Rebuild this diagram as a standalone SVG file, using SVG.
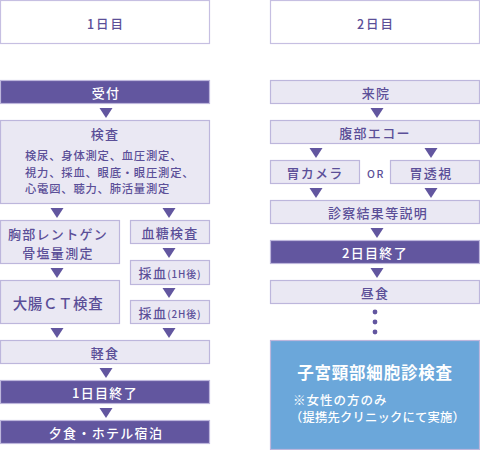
<svg xmlns="http://www.w3.org/2000/svg" width="480" height="450" viewBox="0 0 480 450">
<style>
text{font-family:"Noto Sans CJK JP","Noto Sans",sans-serif;font-weight:500;text-anchor:middle;dominant-baseline:central;font-size:13px;letter-spacing:1.3px;fill:#5b4f98}
.hd rect{fill:#fff;stroke:#c6bfe2;stroke-width:1.2}
.lt rect{fill:#eae8f3;stroke:#bdb6dc;stroke-width:1.2}
.dk rect{fill:#62569f;stroke:#bdb6dc;stroke-width:1.2}
.dk text,.bl text{fill:#fff}
.bl rect{fill:#6ba7da;stroke:#bdb6dc;stroke-width:1.2}
.hdt{font-size:12.5px;letter-spacing:2px}
.sm{font-size:11.3px;letter-spacing:0.8px;text-anchor:start}
.par{font-size:10px;letter-spacing:0.8px}
.big{font-size:14.5px;letter-spacing:0.6px}
.or{font-size:10.5px;letter-spacing:1.5px}
.ttl{font-size:16.5px;font-weight:bold;letter-spacing:0.8px}
.note{font-size:12.5px;letter-spacing:1px;text-anchor:start}
.note2{font-size:12.3px;letter-spacing:0.2px;text-anchor:start}
</style>
<defs><path id="tri" d="M-6.5,0 L6.5,0 L0,10 Z"/></defs>

<g id="day1" class="hd"><rect x="0.5" y="0.5" width="209" height="43"/><text class="hdt" x="106" y="23">1日目</text></g>
<g id="day2" class="hd"><rect x="270.5" y="0.5" width="209" height="43"/><text class="hdt" x="376" y="23">2日目</text></g>

<g id="uketsuke" class="dk"><rect x="0.5" y="80.5" width="209" height="23"/><text x="106" y="92">受付</text></g>
<g id="kensa" class="lt"><rect x="0.5" y="120.5" width="209" height="83"/><text x="105" y="133">検査</text>
<text class="sm" x="25" y="155">検尿、身体測定、血圧測定、</text>
<text class="sm" x="25" y="172">視力、採血、眼底・眼圧測定、</text>
<text class="sm" x="25" y="188">心電図、聴力、肺活量測定</text></g>
<g id="kyoubu" class="lt"><rect x="0.5" y="220.5" width="119" height="43"/><text x="58" y="233">胸部レントゲン</text><text x="58" y="252">骨塩量測定</text></g>
<g id="kettou" class="lt"><rect x="130.5" y="220.5" width="79" height="23"/><text x="170" y="232">血糖検査</text></g>
<g id="saiketsu1" class="lt"><rect x="130.5" y="260.5" width="79" height="24"/><text x="170" y="272.5">採血<tspan class="par">(1H後)</tspan></text></g>
<g id="daichou" class="lt"><rect x="0.5" y="280.5" width="119" height="43"/><text class="big" x="58" y="302">大腸ＣＴ検査</text></g>
<g id="saiketsu2" class="lt"><rect x="130.5" y="300.5" width="79" height="23"/><text x="170" y="312.5">採血<tspan class="par">(2H後)</tspan></text></g>
<g id="keishoku" class="lt"><rect x="0.5" y="340.5" width="209" height="23"/><text x="105" y="352">軽食</text></g>
<g id="end1" class="dk"><rect x="0.5" y="380.5" width="209" height="23"/><text x="105" y="392">1日目終了</text></g>
<g id="yuushoku" class="dk"><rect x="0.5" y="420.5" width="209" height="23"/><text x="106" y="432">夕食・ホテル宿泊</text></g>

<g id="raiin" class="lt"><rect x="270.5" y="80.5" width="209" height="23"/><text x="376" y="92">来院</text></g>
<g id="echo" class="lt"><rect x="270.5" y="120.5" width="209" height="23"/><text x="375" y="132">腹部エコー</text></g>
<g id="ikamera" class="lt"><rect x="270.5" y="160.5" width="89" height="23"/><text x="315" y="172">胃カメラ</text></g>
<g id="or"><text class="or" x="376" y="173">OR</text></g>
<g id="itoushi" class="lt"><rect x="390.5" y="160.5" width="89" height="23"/><text x="431" y="172">胃透視</text></g>
<g id="setsumei" class="lt"><rect x="270.5" y="200.5" width="209" height="23"/><text x="378" y="212">診察結果等説明</text></g>
<g id="end2" class="dk"><rect x="270.5" y="240.5" width="209" height="23"/><text x="375" y="252">2日目終了</text></g>
<g id="chuushoku" class="lt"><rect x="270.5" y="280.5" width="209" height="23"/><text x="375" y="292">昼食</text></g>
<g id="shikyu" class="bl"><rect x="270.5" y="340.5" width="209" height="109"/>
<text class="ttl" x="375" y="372">子宮頸部細胞診検査</text>
<text class="note" x="293" y="399">※女性の方のみ</text>
<text class="note2" x="290" y="417">（提携先クリニックにて実施）</text></g>

<g id="connectors" fill="#62569f">
<use href="#tri" x="106" y="108"/>
<use href="#tri" x="57" y="208"/>
<use href="#tri" x="169" y="208"/>
<use href="#tri" x="169" y="248"/>
<use href="#tri" x="57" y="268"/>
<use href="#tri" x="169" y="288"/>
<use href="#tri" x="57" y="328"/>
<use href="#tri" x="169" y="328"/>
<use href="#tri" x="106" y="368"/>
<use href="#tri" x="106" y="408"/>
<use href="#tri" x="377" y="108"/>
<use href="#tri" x="316" y="148"/>
<use href="#tri" x="431" y="148"/>
<use href="#tri" x="316" y="188"/>
<use href="#tri" x="431" y="188"/>
<use href="#tri" x="377" y="228"/>
<use href="#tri" x="377" y="268"/>
<circle cx="375" cy="312" r="2.4"/>
<circle cx="375" cy="322" r="2.4"/>
<circle cx="375" cy="332" r="2.4"/>
</g>
</svg>
